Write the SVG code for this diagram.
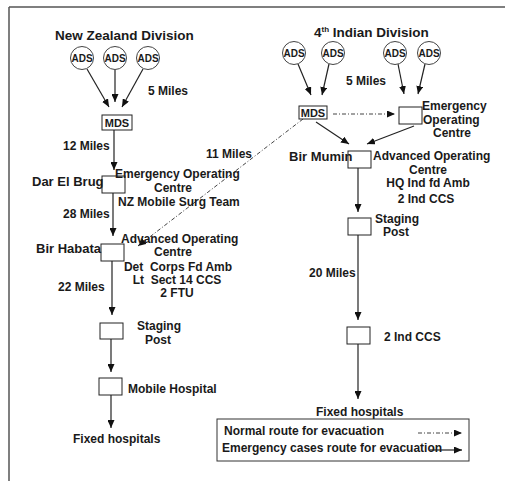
<svg xmlns="http://www.w3.org/2000/svg" width="505" height="481" viewBox="0 0 505 481">
<style>
text{font-family:"Liberation Sans",Arial,sans-serif;font-weight:bold;fill:#1a1a1a;font-size:12px}
.t{font-size:13.5px}
.p{font-size:13px}
.a{font-size:10px}
.m{font-size:11px}
.c{text-anchor:middle}
.bx{fill:#fff;stroke:#222;stroke-width:1}
.ci{fill:#fff;stroke:#444;stroke-width:1}
.s{stroke:#222;stroke-width:1.2;fill:none;marker-end:url(#ah)}
.d{stroke:#444;stroke-width:1;fill:none;stroke-dasharray:4 2 1 2;marker-end:url(#ah)}
</style>
<defs>
<marker id="ah" markerUnits="userSpaceOnUse" markerWidth="8" markerHeight="7" refX="8" refY="3.5" orient="auto">
<path d="M0,0 L8,3.5 L0,7 z" fill="#111"/>
</marker>
</defs>
<rect width="505" height="481" fill="#fff"/>
<g id="frame"><path d="M9,7 H505 M9,7 V481" stroke="#555" stroke-width="1.5" fill="none"/></g>

<g id="connectors">
<line class="s" x1="87" y1="69" x2="109" y2="107"/>
<line class="s" x1="115" y1="70" x2="115" y2="102"/>
<line class="s" x1="143" y1="69" x2="122" y2="107"/>
<line class="s" x1="114" y1="130" x2="114" y2="170"/>
<line class="s" x1="113" y1="193" x2="113" y2="236"/>
<line class="s" x1="112" y1="261" x2="112" y2="315"/>
<line class="s" x1="111" y1="339" x2="111" y2="372"/>
<line class="s" x1="111" y1="395" x2="111" y2="428"/>
<line class="s" x1="298" y1="64" x2="311" y2="95"/>
<line class="s" x1="329" y1="64" x2="322" y2="95"/>
<line class="s" x1="398" y1="64" x2="404" y2="94"/>
<line class="s" x1="425" y1="64" x2="418" y2="94"/>
<line class="s" x1="316" y1="122" x2="349" y2="144"/>
<line class="s" x1="414" y1="126" x2="367" y2="144"/>
<line class="s" x1="358" y1="168" x2="358" y2="212"/>
<line class="s" x1="358" y1="235" x2="358" y2="320"/>
<line class="s" x1="358" y1="344" x2="358" y2="399"/>
<line class="d" x1="333" y1="114" x2="395" y2="114"/>
<line class="d" x1="303" y1="119" x2="138" y2="246"/>
</g>

<g id="nz-title"><text class="t" x="55" y="40">New Zealand Division</text></g>
<g id="nz-ads1"><circle class="ci" cx="82" cy="58" r="11.5"/><text class="a c" x="82" y="62">ADS</text></g>
<g id="nz-ads2"><circle class="ci" cx="115" cy="58" r="11.5"/><text class="a c" x="115" y="62">ADS</text></g>
<g id="nz-ads3"><circle class="ci" cx="148" cy="58" r="11.5"/><text class="a c" x="148" y="62">ADS</text></g>
<g id="nz-mds"><rect class="bx" x="102" y="115" width="30" height="15"/><text class="m c" x="117" y="127">MDS</text></g>
<g id="nz-dar"><rect class="bx" x="102" y="176" width="23" height="17"/>
<text class="p" x="32" y="186">Dar El Brug</text>
<text x="115" y="178">Emergency Operating</text>
<text class="c" x="173" y="192">Centre</text>
<text x="118" y="206">NZ Mobile Surg Team</text></g>
<g id="nz-bir"><rect class="bx" x="101" y="244" width="23" height="17"/>
<text class="p" x="36" y="253">Bir Habata</text>
<text x="121" y="243">Advanced Operating</text>
<text class="c" x="173" y="256">Centre</text>
<text class="c" x="178" y="271" xml:space="preserve">Det  Corps Fd Amb</text>
<text class="c" x="177" y="284" xml:space="preserve">Lt  Sect 14 CCS</text>
<text class="c" x="177" y="297">2 FTU</text></g>
<g id="nz-staging"><rect class="bx" x="100" y="323" width="23" height="16"/>
<text x="137" y="330">Staging</text><text class="c" x="158" y="344">Post</text></g>
<g id="nz-mobile"><rect class="bx" x="99" y="378" width="23" height="17"/>
<text x="128" y="393">Mobile Hospital</text></g>
<g id="nz-fixed"><text x="73" y="443">Fixed hospitals</text></g>

<g id="nz-labels">
<text x="148" y="95">5 Miles</text>
<text x="63" y="150">12 Miles</text>
<text x="63" y="218">28 Miles</text>
<text x="58" y="291">22 Miles</text>
<text x="206" y="158">11 Miles</text>
</g>

<g id="in-title"><text class="t" x="314" y="37">4<tspan font-size="8" dy="-5">th</tspan><tspan dy="5"> Indian Division</tspan></text></g>
<g id="in-ads1"><circle class="ci" cx="294" cy="53" r="11.5"/><text class="a c" x="294" y="57">ADS</text></g>
<g id="in-ads2"><circle class="ci" cx="333" cy="53" r="11.5"/><text class="a c" x="333" y="57">ADS</text></g>
<g id="in-ads3"><circle class="ci" cx="395" cy="53" r="11.5"/><text class="a c" x="395" y="57">ADS</text></g>
<g id="in-ads4"><circle class="ci" cx="429" cy="53" r="11.5"/><text class="a c" x="429" y="57">ADS</text></g>
<g id="in-mds"><rect class="bx" x="299" y="106" width="28" height="13"/><text class="m c" x="313" y="117">MDS</text></g>
<g id="in-eoc"><rect class="bx" x="399" y="107" width="23" height="17"/>
<text x="422" y="110">Emergency</text><text x="423" y="124">Operating</text><text x="433" y="137">Centre</text></g>
<g id="in-bir"><rect class="bx" x="348" y="151" width="23" height="17"/>
<text class="p" x="289" y="161">Bir Mumin</text>
<text x="373" y="160">Advanced Operating</text>
<text class="c" x="428" y="174">Centre</text>
<text class="c" x="428" y="187">HQ Ind fd Amb</text>
<text class="c" x="426" y="203">2 Ind CCS</text></g>
<g id="in-staging"><rect class="bx" x="348" y="218" width="23" height="17"/>
<text x="375" y="223">Staging</text><text class="c" x="396" y="236">Post</text></g>
<g id="in-ccs"><rect class="bx" x="347" y="327" width="23" height="17"/>
<text x="384" y="341">2 Ind CCS</text></g>
<g id="in-fixed"><text x="316" y="416">Fixed hospitals</text></g>
<g id="in-labels">
<text x="346" y="85">5 Miles</text>
<text x="309" y="277">20 Miles</text>
</g>

<g id="legend">
<rect x="217" y="419" width="252" height="42" fill="none" stroke="#333" stroke-width="1"/>
<text x="224" y="435">Normal route for evacuation</text>
<line class="d" x1="418" y1="433" x2="462" y2="433"/>
<text x="222" y="452">Emergency cases route for evacuation</text>
<line class="s" x1="430" y1="450" x2="462" y2="450"/>
</g>
</svg>
